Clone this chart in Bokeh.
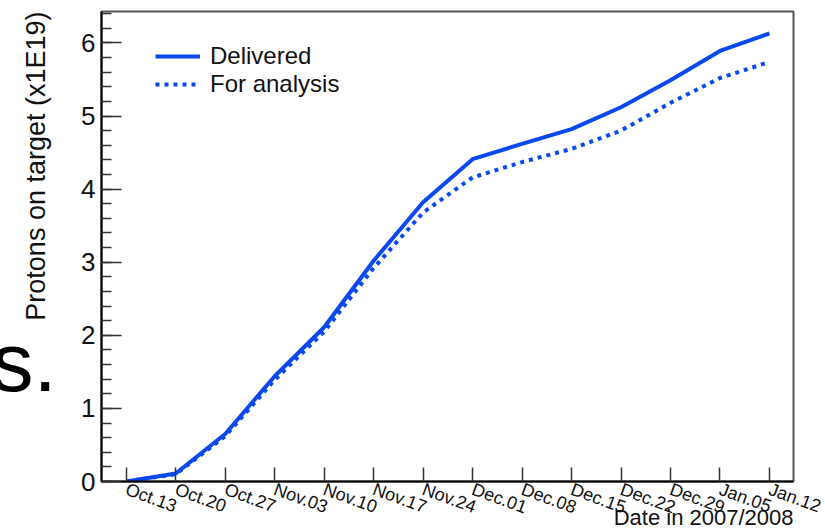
import math
from bokeh.plotting import figure
from bokeh.models import FixedTicker, Legend, LegendItem, Range1d
from bokeh.core.properties import value
from bokeh.embed import file_html
from bokeh.resources import INLINE

weeks = ["Oct.13", "Oct.20", "Oct.27", "Nov.03", "Nov.10", "Nov.17", "Nov.24",
         "Dec.01", "Dec.08", "Dec.15", "Dec.22", "Dec.29", "Jan.05", "Jan.12"]
delivered = [0.0, 0.11, 0.65, 1.44, 2.11, 3.02, 3.82, 4.41, 4.62, 4.82, 5.12, 5.49, 5.89, 6.13]
for_analysis = [0.0, 0.10, 0.62, 1.39, 2.05, 2.92, 3.68, 4.16, 4.37, 4.55, 4.80, 5.18, 5.52, 5.74]
y_ticks = [0, 1, 2, 3, 4, 5, 6]
x_title = "Date in 2007/2008"
y_title = "Protons on target (x1E19)"
slide_fragment = "s."

FONT = "Liberation Sans"
BLUE = "#0a48f0"
INK = "#111111"

X0, X1 = -0.5, 13.486
Y0, Y1 = 0, 6.43
xs = list(range(len(weeks)))

p = figure(width=825, height=531, output_backend="svg", toolbar_location=None,
           x_range=Range1d(X0, X1), y_range=Range1d(Y0, Y1),
           min_border_left=101, min_border_right=32, min_border_top=11, min_border_bottom=50)
p.background_fill_color = "white"
p.border_fill_color = "white"
p.outline_line_color = "#555555"
p.outline_line_width = 2
p.grid.visible = False

r1 = p.line(xs, delivered, line_color=BLUE, line_width=4)
r2 = p.line(xs, for_analysis, line_color=BLUE, line_width=4, line_dash="4 5")

# x axis
xa = p.xaxis[0]
xa.ticker = FixedTicker(ticks=xs, minor_ticks=[])
xa.major_label_overrides = {i: w for i, w in enumerate(weeks)}
xa.major_label_orientation = -0.35
xa.major_tick_in = 14
xa.major_tick_out = 0
xa.minor_tick_in = 0
xa.minor_tick_out = 0
xa.major_label_standoff = 7
xa.major_label_text_font = FONT
xa.major_label_text_font_size = "18px"
xa.major_label_text_color = INK
xa.axis_line_width = 2
xa.axis_line_color = "black"
xa.major_tick_line_color = "#333333"
xa.major_tick_line_width = 1.5

# y axis
ya = p.yaxis[0]
ya.ticker = FixedTicker(ticks=y_ticks, minor_ticks=[i * 0.2 for i in range(33)])
ya.major_tick_in = 20
ya.major_tick_out = 0
ya.minor_tick_in = 10
ya.minor_tick_out = 0
ya.major_label_standoff = 6
ya.major_label_text_font = FONT
ya.major_label_text_font_size = "26px"
ya.major_label_text_color = INK
ya.axis_line_width = 2
ya.axis_line_color = "black"
ya.major_tick_line_color = "#333333"
ya.minor_tick_line_color = "#333333"
ya.major_tick_line_width = 1.5
ya.minor_tick_line_width = 1.5

legend = Legend(items=[LegendItem(label="Delivered", renderers=[r1]),
                       LegendItem(label="For analysis", renderers=[r2])],
                location=(54, 383), border_line_color=None, background_fill_alpha=0,
                padding=0, margin=0, spacing=0, glyph_width=45, glyph_height=24,
                label_height=24, label_standoff=10,
                label_text_font=FONT, label_text_font_size="24px", label_text_color=INK)
p.add_layout(legend)

# axis titles, end-aligned as in the original (drawn on the overlay level so they are not clipped)
p.text(x=[X1], y=[-0.49], text=[x_title], text_font=value(FONT), text_font_size="22px",
       text_color=INK, text_align="right", text_baseline="alphabetic", level="overlay")
p.text(x=[-1.83], y=[Y1], text=[y_title], text_font=value(FONT), text_font_size="27px",
       text_color=INK, text_align="right", text_baseline="alphabetic", angle=math.pi / 2,
       level="overlay")

# fragment of the slide text that overlaps the chart on the left
p.text(x=[-2.725], y=[1.63], text=[slide_fragment], text_font=value(FONT),
       text_font_size="84px", text_color="black", text_align="left",
       text_baseline="alphabetic", level="overlay")

open("out.html", "w").write(file_html(p, INLINE))
